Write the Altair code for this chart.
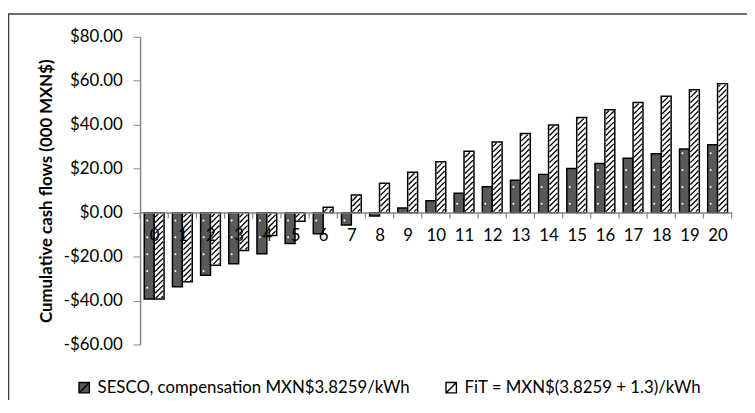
import math
import altair as alt
import pandas as pd

# ---------------- data ----------------
years = list(range(21))
sesco = [-39.3, -33.7, -28.5, -23.3, -18.7, -14.1, -9.6, -5.6, -1.5, 2.1, 5.4,
         8.8, 11.8, 14.7, 17.4, 20.1, 22.3, 24.7, 26.8, 29.0, 30.9]
fit = [-39.3, -31.5, -23.9, -17.2, -10.4, -3.9, 2.4, 8.0, 13.4, 18.4, 23.2,
       27.9, 32.1, 36.0, 39.9, 43.3, 46.8, 50.1, 53.0, 55.9, 58.7]
series_names = ["SESCO, compensation MXN$3.8259/kWh", "FiT = MXN$(3.8259 + 1.3)/kWh"]
y_ticks = [-60, -40, -20, 0, 20, 40, 60, 80]
y_title = "Cumulative cash flows (000 MXN$)"

# ---------------- geometry / style ----------------
W, H = 598, 311
Y_MIN, Y_MAX = -60, 80
kx = W / 21.0
ky = H / float(Y_MAX - Y_MIN)
BAR_PX = 10.0
bw = BAR_PX / kx
FONT = "Lato"
FS = 17

rows = []
for i, v in zip(years, sesco):
    rows.append({"series": series_names[0], "xa": i - bw, "xb": i, "ya": v, "yb": 0})
for i, v in zip(years, fit):
    rows.append({"series": series_names[1], "xa": i, "xb": i + bw, "ya": v, "yb": 0})
bars = pd.DataFrame(rows)

# hatch lines ("/") inside FiT bars, derived from the FiT values
P = 5.5
ins = 1.0
hatch = []
for i, v in zip(years, fit):
    h = v * ky
    wmin, wmax = min(0.0, h) + ins, max(0.0, h) - ins
    u0, u1 = ins, BAR_PX - ins
    if wmax <= wmin:
        continue
    c = math.floor((wmin - u1) / P) * P
    while c <= wmax:
        us = max(u0, wmin - c)
        ue = min(u1, wmax - c)
        if ue - us > 0.3:
            hatch.append({"xa": i + us / kx, "xb": i + ue / kx,
                          "ya": (us + c) / ky, "yb": (ue + c) / ky})
        c += P
hatch = pd.DataFrame(hatch)

# small white dots inside SESCO bars
dots = []
for i, v in zip(years, sesco):
    h = v * ky
    lo, hi = min(0.0, h) + 3, max(0.0, h) - 3
    k = math.ceil(lo / 17.0)
    while k * 17.0 - 8 <= hi:
        w = k * 17.0 - 8
        if lo <= w <= hi:
            dots.append({"xa": i - bw + 3.0 / kx, "ya": w / ky})
        k += 1
dots = pd.DataFrame(dots)

# category boundary ticks on the zero line
ticks = pd.DataFrame({"xa": [k - 0.5 for k in range(22)], "ya": [0.0] * 22,
                      "yb": [-6.0 / ky] * 22})

xscale = alt.Scale(domain=[-0.5, 20.5], nice=False, zero=False)
yscale = alt.Scale(domain=[Y_MIN, Y_MAX], nice=False, zero=False)

xaxis = alt.Axis(
    values=years, format="d", ticks=False,
    labelOverlap=False, labelFlush=False, labelBound=False,
    offset=-(H * (0 - Y_MIN) / (Y_MAX - Y_MIN)),
    domainColor="#868686", domainWidth=1.5,
    labelPadding=15, labelFontSize=FS, labelFont=FONT, labelColor="#000000",
    grid=False, title=None, zindex=1,
)
yaxis = alt.Axis(
    values=y_ticks,
    labelExpr="datum.value < 0 ? '-$' + format(-datum.value, '.2f') : '$' + format(datum.value, '.2f')",
    tickSize=7, tickColor="#868686", domainColor="#868686", domainWidth=1.5,
    labelPadding=11, labelFontSize=FS, labelFont=FONT, labelColor="#000000",
    grid=False, title=y_title, titleFont=FONT, titleFontSize=FS, titleFontWeight="bold",
    titleColor="#000000", titleX=-94.5, titleY=H / 2, titleAngle=-90,
    titleAlign="center", titleBaseline="middle",
)

X = alt.X("xa:Q", scale=xscale, axis=xaxis)
Y = alt.Y("ya:Q", scale=yscale, axis=yaxis)

# legend swatch: square with a diagonal stroke (hints the hatch)
swatch = "M-1,-1L1,-1L1,1L-1,1Z M-1,1L1,-1"

bar_layer = alt.Chart(bars).mark_bar(stroke="#000000", strokeWidth=1.5).encode(
    x=X, x2="xb:Q", y=Y, y2="yb:Q",
    color=alt.Color(
        "series:N",
        scale=alt.Scale(domain=series_names, range=["#595959", "#ffffff"]),
        legend=alt.Legend(
            title=None, orient="none", legendX=-65, legendY=346,
            direction="horizontal", symbolType=swatch, symbolSize=110,
            symbolStrokeColor="#000000", symbolStrokeWidth=1.4,
            labelFont=FONT, labelFontSize=FS, labelColor="#000000",
            labelLimit=500, labelOffset=5, columnPadding=33,
        ),
    ),
)

hatch_layer = alt.Chart(hatch).mark_rule(color="#000000", strokeWidth=1.3).encode(
    x=X, x2="xb:Q", y=Y, y2="yb:Q"
)

dot_layer = alt.Chart(dots).mark_point(filled=True, color="#ffffff", size=4, opacity=1).encode(
    x=X, y=Y
)

tick_layer = alt.Chart(ticks).mark_rule(color="#868686", strokeWidth=1.2).encode(
    x=X, y=Y, y2="yb:Q"
)

frame = alt.Chart(pd.DataFrame({"a": [0]})).mark_rect(
    fillOpacity=0, stroke="#404040", strokeWidth=1.6
).encode(
    x=alt.value(-133), x2=alt.value(W + 80), y=alt.value(-23), y2=alt.value(H + 120)
)

chart = alt.layer(frame, bar_layer, hatch_layer, dot_layer, tick_layer).properties(
    width=W, height=H,
    autosize=alt.AutoSizeParams(type="none"),
    padding={"left": 133.5, "top": 27, "right": 15.5, "bottom": 54},
    background="#ffffff",
).configure_view(stroke=None)

chart.save("out.html", embed_options={"renderer": "svg", "actions": False})
